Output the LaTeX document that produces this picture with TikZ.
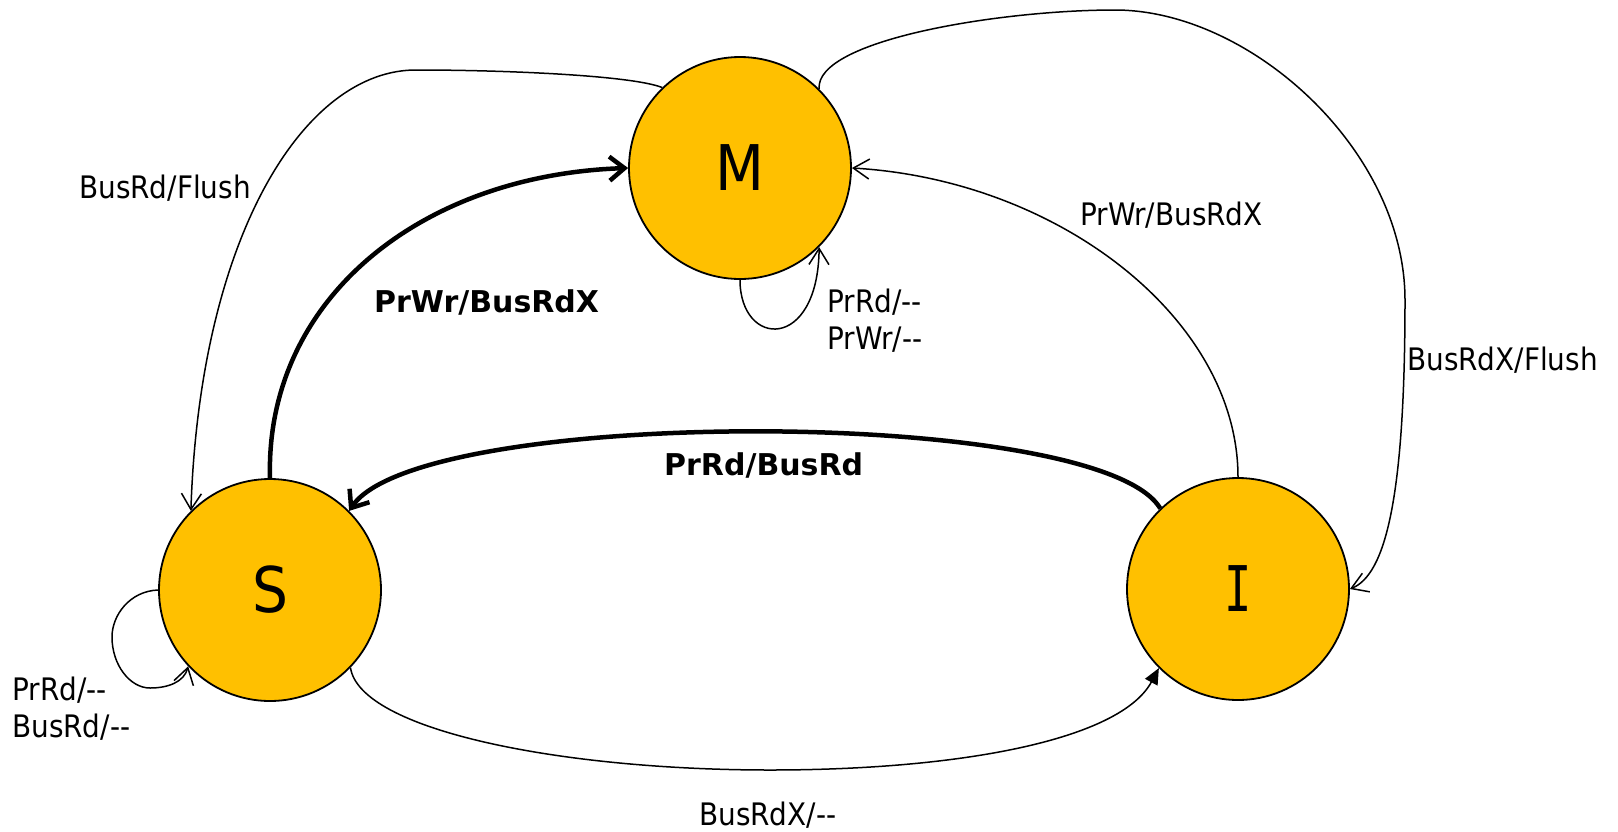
\documentclass[tikz,border=0pt]{standalone}
\usepackage{fontspec}
\setmainfont{DejaVu Sans}[FakeStretch=0.9, Ligatures=TeXOff]
\newfontfamily\boldlbl{DejaVu Sans}[Ligatures=TeXOff]
\newfontfamily\monoI{DejaVu Sans Mono}[FakeStretch=0.72]
\usetikzlibrary{arrows.meta}
\definecolor{stategold}{HTML}{FFC000}
\begin{document}
\begin{tikzpicture}[x=1pt,y=-1pt,
  state/.style={circle, draw=black, line width=1.8pt, fill=stategold, minimum size=222pt, inner sep=0pt, font=\fontsize{63}{63}\selectfont},
  thinedge/.style={line width=1.5pt, -{Straight Barb[length=16pt,width=20pt]}},
  thickedge/.style={line width=4.5pt, -{Straight Barb[length=15pt,width=24pt]}},
  fillededge/.style={line width=1.5pt, -{Triangle[length=16pt,width=14pt]}},
  lbl/.style={anchor=base west, inner sep=0pt, font=\fontsize{31}{37}\selectfont},
  blbl/.style={anchor=base west, inner sep=0pt, font=\boldlbl\bfseries\fontsize{30}{36}\selectfont},
]
\useasboundingbox[fill=white] (0,0) rectangle (1618,831);

\node[state] (M) at (740,168) {M};
\node[state] (S) at (270,590) {S};
\node[state] (I) at (1238,589) {\monoI I};

% M -> S : BusRd/Flush
\draw[thinedge] (M.134) .. controls (630,75) and (500,70) .. (418,70)
  .. controls (305,68) and (200,235) .. (S.135);
% S -> M : PrWr/BusRdX (thick)
\draw[thickedge] (S.90) .. controls (265,300) and (420,175) .. (M.180);
% M self loop
\draw[thinedge] (M.270) .. controls (740,348) and (818,352) .. (M.-45);
% I -> M : PrWr/BusRdX
\draw[thinedge] (I.90) .. controls (1238,320) and (1060,180) .. (M.0);
% M -> I : BusRdX/Flush
\draw[thinedge] (M.45) .. controls (815,40) and (1000,10) .. (1115,10)
  .. controls (1250,10) and (1405,150) .. (1405,300)
  .. controls (1405,500) and (1385,575) .. (I.0);
% I -> S : PrRd/BusRd (thick)
\draw[thickedge] (I.134) .. controls (1100,406) and (420,406) .. (S.45);
% S -> I : BusRdX/--
\draw[fillededge] (S.-44) .. controls (360,730) and (560,770) .. (770,770)
  .. controls (960,770) and (1120,740) .. (I.225);
% S self loop
\draw[thinedge] (S.180) .. controls (130,591) and (112,615) .. (112,637)
  .. controls (112,665) and (130,688) .. (150,688)
  .. controls (168,688) and (184,682) .. (S.223);

\node[lbl] (lBF) at (79,198) {BusRd/Flush};
\node[blbl] (lPW) at (374,312) {PrWr/BusRdX};
\node[lbl] (lML) at (827,312) {\begin{tabular}[t]{@{}l@{}}PrRd/--\\PrWr/--\end{tabular}};
\node[lbl] (lIM) at (1080,225) {PrWr/BusRdX};
\node[lbl] (lBXF) at (1407,370) {BusRdX/Flush};
\node[blbl] (lPR) at (664,475) {PrRd/BusRd};
\node[lbl] (lSL) at (12,700) {\begin{tabular}[t]{@{}l@{}}PrRd/--\\BusRd/--\end{tabular}};
\node[lbl] (lBX) at (699,825) {BusRdX/--};
\end{tikzpicture}
\end{document}
